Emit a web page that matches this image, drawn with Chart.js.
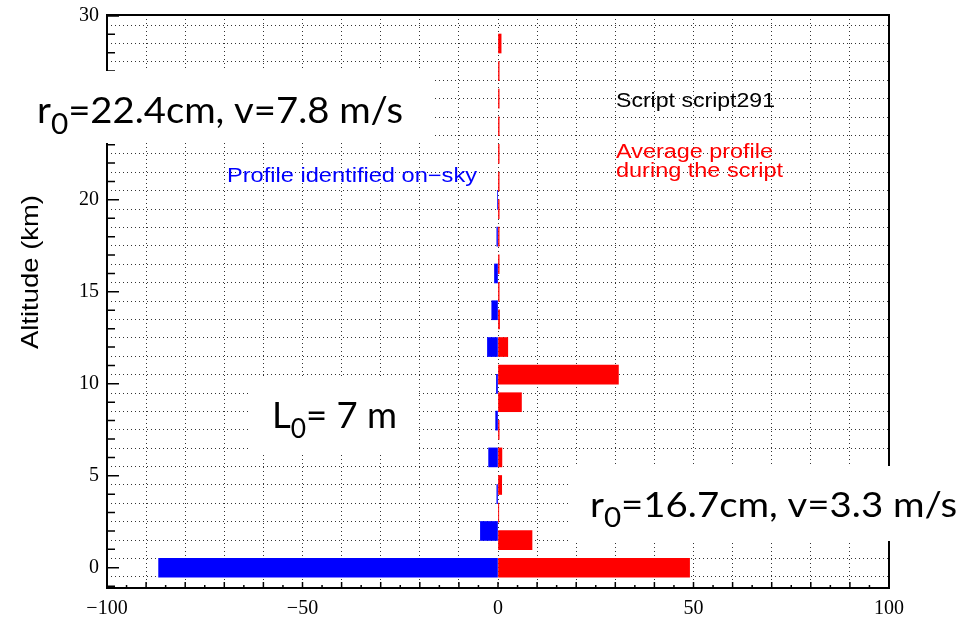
<!DOCTYPE html>
<html>
<head>
<meta charset="utf-8">
<script src="https://cdn.jsdelivr.net/npm/chart.js@4.4.1/dist/chart.umd.min.js"></script>
<style>
  html, body { margin: 0; padding: 0; background: #fff; overflow: hidden; }
  #wrap { width: 963px; height: 619px; }
</style>
</head>
<body>
<div id="wrap"><canvas id="profile" width="963" height="619"></canvas></div>
<script>
// altitudes (km) and strengths
const blueAlt = [0, 2, 4, 6, 8, 10, 12, 14, 16, 18, 20];
const blueVal = [-86.8, -4.5, -0.3, -2.4, -0.6, -0.4, -2.7, -1.6, -0.9, -0.3, -0.1];

const redAlt = [0, 1.5, 3, 4.5, 6, 7.5, 9, 10.5, 12, 13.5, 15, 16.5, 18, 19.5, 21, 22.5, 24, 25.5, 27, 28.5];
const redVal = [49, 8.7, 0.2, 0.95, 1.0, 0.3, 6.0, 30.8, 2.5, 0.4, 0.3, 0.3, 0.3, 0.3, 0.3, 0.3, 0.3, 0.3, 0.3, 0.8];

// axis ticks
const xGrid = [-100, -90, -80, -70, -60, -50, -40, -30, -20, -10, 0, 10, 20, 30, 40, 50, 60, 70, 80, 90, 100];
const xSmallTicks = [-95, -85, -75, -65, -55, -45, -35, -25, -15, -5, 5, 15, 25, 35, 45, 55, 65, 75, 85, 95];
const xLabelled = [-100, -50, 0, 50, 100];
const yGrid = [-1, 0, 1, 2, 3, 4, 5, 6, 7, 8, 9, 10, 11, 12, 13, 14, 15, 16, 17, 18, 19, 20, 21, 22, 23, 24, 25, 26, 27, 28, 29, 30];
const yLabelled = [0, 5, 10, 15, 20, 25, 30];

const fmtTick = (v) => (v < 0 ? '\u2212' + Math.abs(v) : String(v));

// draws a run of [text, size, dy] pieces squeezed/stretched to a given width
function fitText(ctx, parts, family, x, base, width, color) {
  let total = 0;
  for (const p of parts) {
    ctx.font = p[1] + 'px ' + family;
    total += ctx.measureText(p[0]).width;
  }
  ctx.save();
  ctx.translate(x, base);
  ctx.scale(width / total, 1);
  ctx.fillStyle = color;
  ctx.textAlign = 'left';
  ctx.textBaseline = 'alphabetic';
  let cx = 0;
  for (const p of parts) {
    ctx.font = p[1] + 'px ' + family;
    ctx.fillText(p[0], cx, p[2] || 0);
    cx += ctx.measureText(p[0]).width;
  }
  ctx.restore();
}

const overlay = {
  id: 'overlay',
  afterDraw(chart) {
    const { ctx, chartArea: a, scales: { x, y } } = chart;
    ctx.save();

    // frame
    ctx.strokeStyle = '#000';
    ctx.lineWidth = 2;
    ctx.strokeRect(a.left, a.top, a.right - a.left, a.bottom - a.top);

    // ticks pointing inwards (ROOT style)
    ctx.lineWidth = 1.5;
    ctx.beginPath();
    for (const v of xGrid) {
      const px = x.getPixelForValue(v);
      ctx.moveTo(px, a.bottom);
      ctx.lineTo(px, a.bottom - 6);
    }
    for (const v of xSmallTicks) {
      const px = x.getPixelForValue(v);
      ctx.moveTo(px, a.bottom);
      ctx.lineTo(px, a.bottom - 3);
    }
    for (const v of yGrid) {
      const py = y.getPixelForValue(v);
      const len = yLabelled.includes(v) ? 12 : 8;
      ctx.moveTo(a.left, py);
      ctx.lineTo(a.left + len, py);
    }
    ctx.stroke();

    // axis title
    ctx.save();
    ctx.translate(38, 272);
    ctx.rotate(-Math.PI / 2);
    fitText(ctx, [['Altitude (km)', 24]], '"Liberation Sans", Arial, sans-serif', -77, 0, 154, '#000');
    ctx.restore();

    // ROOT texts
    const helv = '"Liberation Sans", Arial, sans-serif';
    fitText(ctx, [['Script script291', 20]], helv, 616, 107, 159, '#000');
    fitText(ctx, [['Average profile', 20]], helv, 616, 158, 157, '#ff0000');
    fitText(ctx, [['during the script', 20]], helv, 616, 177, 167, '#ff0000');
    fitText(ctx, [['Profile identified on\u2212sky', 20]], helv, 227, 182, 250, '#0000ff');

    // pasted annotation boxes
    const cal = 'Lato, "Open Sans", sans-serif';
    ctx.fillStyle = '#fff';
    ctx.fillRect(0, 71, 432, 72);
    ctx.fillRect(250, 377, 168, 75);
    ctx.fillRect(568, 466, 395, 75);
    fitText(ctx, [['r', 36], ['0', 28, 11], ['=22.4cm, v=7.8 m/s', 36]], cal, 37, 123, 366, '#000');
    fitText(ctx, [['L', 36], ['0', 26, 10], ['= 7 m', 36]], cal, 272, 428, 125, '#000');
    fitText(ctx, [['r', 35], ['0', 27, 10], ['=16.7cm, v=3.3 m/s', 35]], cal, 590, 517, 367, '#000');

    ctx.restore();
  }
};

const canvas = document.getElementById('profile');

new Chart(canvas, {
  type: 'bar',
  data: {
    datasets: [
      {
        label: 'Profile identified on-sky',
        data: blueAlt.map((alt, i) => ({ x: blueVal[i], y: alt })),
        backgroundColor: '#0000ff',
      },
      {
        label: 'Average profile during the script',
        data: redAlt.map((alt, i) => ({ x: redVal[i], y: alt })),
        backgroundColor: '#ff0000',
      },
    ],
  },
  options: {
    indexAxis: 'y',
    responsive: false,
    devicePixelRatio: 1,
    animation: false,
    datasets: {
      bar: { barThickness: 19, grouped: false, borderWidth: 0 },
    },
    layout: { padding: { left: 0, right: 74, top: 15, bottom: 0 } },
    plugins: {
      legend: { display: false },
      tooltip: { enabled: false },
    },
    scales: {
      x: {
        type: 'linear',
        min: -100,
        max: 100,
        z: 1,
        afterBuildTicks: (s) => { s.ticks = xGrid.map((v) => ({ value: v })); },
        afterFit: (s) => { s.height = 31; },
        grid: { color: 'rgba(0,0,0,0.8)', lineWidth: 1, drawTicks: false },
        border: { display: false, dash: [1, 3] },
        ticks: {
          autoSkip: false,
          maxRotation: 0,
          padding: 9,
          color: '#000',
          font: { family: '"Liberation Serif", "Times New Roman", serif', size: 20 },
          callback: (v) => (xLabelled.includes(v) ? fmtTick(v) : ''),
        },
      },
      y: {
        type: 'linear',
        min: -1.1,
        max: 30.05,
        offset: false,
        z: 1,
        afterBuildTicks: (s) => { s.ticks = yGrid.map((v) => ({ value: v })); },
        afterFit: (s) => { s.width = 107; },
        grid: { color: 'rgba(0,0,0,0.8)', lineWidth: 1, drawTicks: false },
        border: { display: false, dash: [1, 3] },
        ticks: {
          autoSkip: false,
          padding: 8,
          color: '#000',
          font: { family: '"Liberation Serif", "Times New Roman", serif', size: 20, lineHeight: 0.5 },
          callback: (v) => (yLabelled.includes(v) ? fmtTick(v) : ''),
        },
      },
    },
  },
  plugins: [overlay],
});
</script>
</body>
</html>
